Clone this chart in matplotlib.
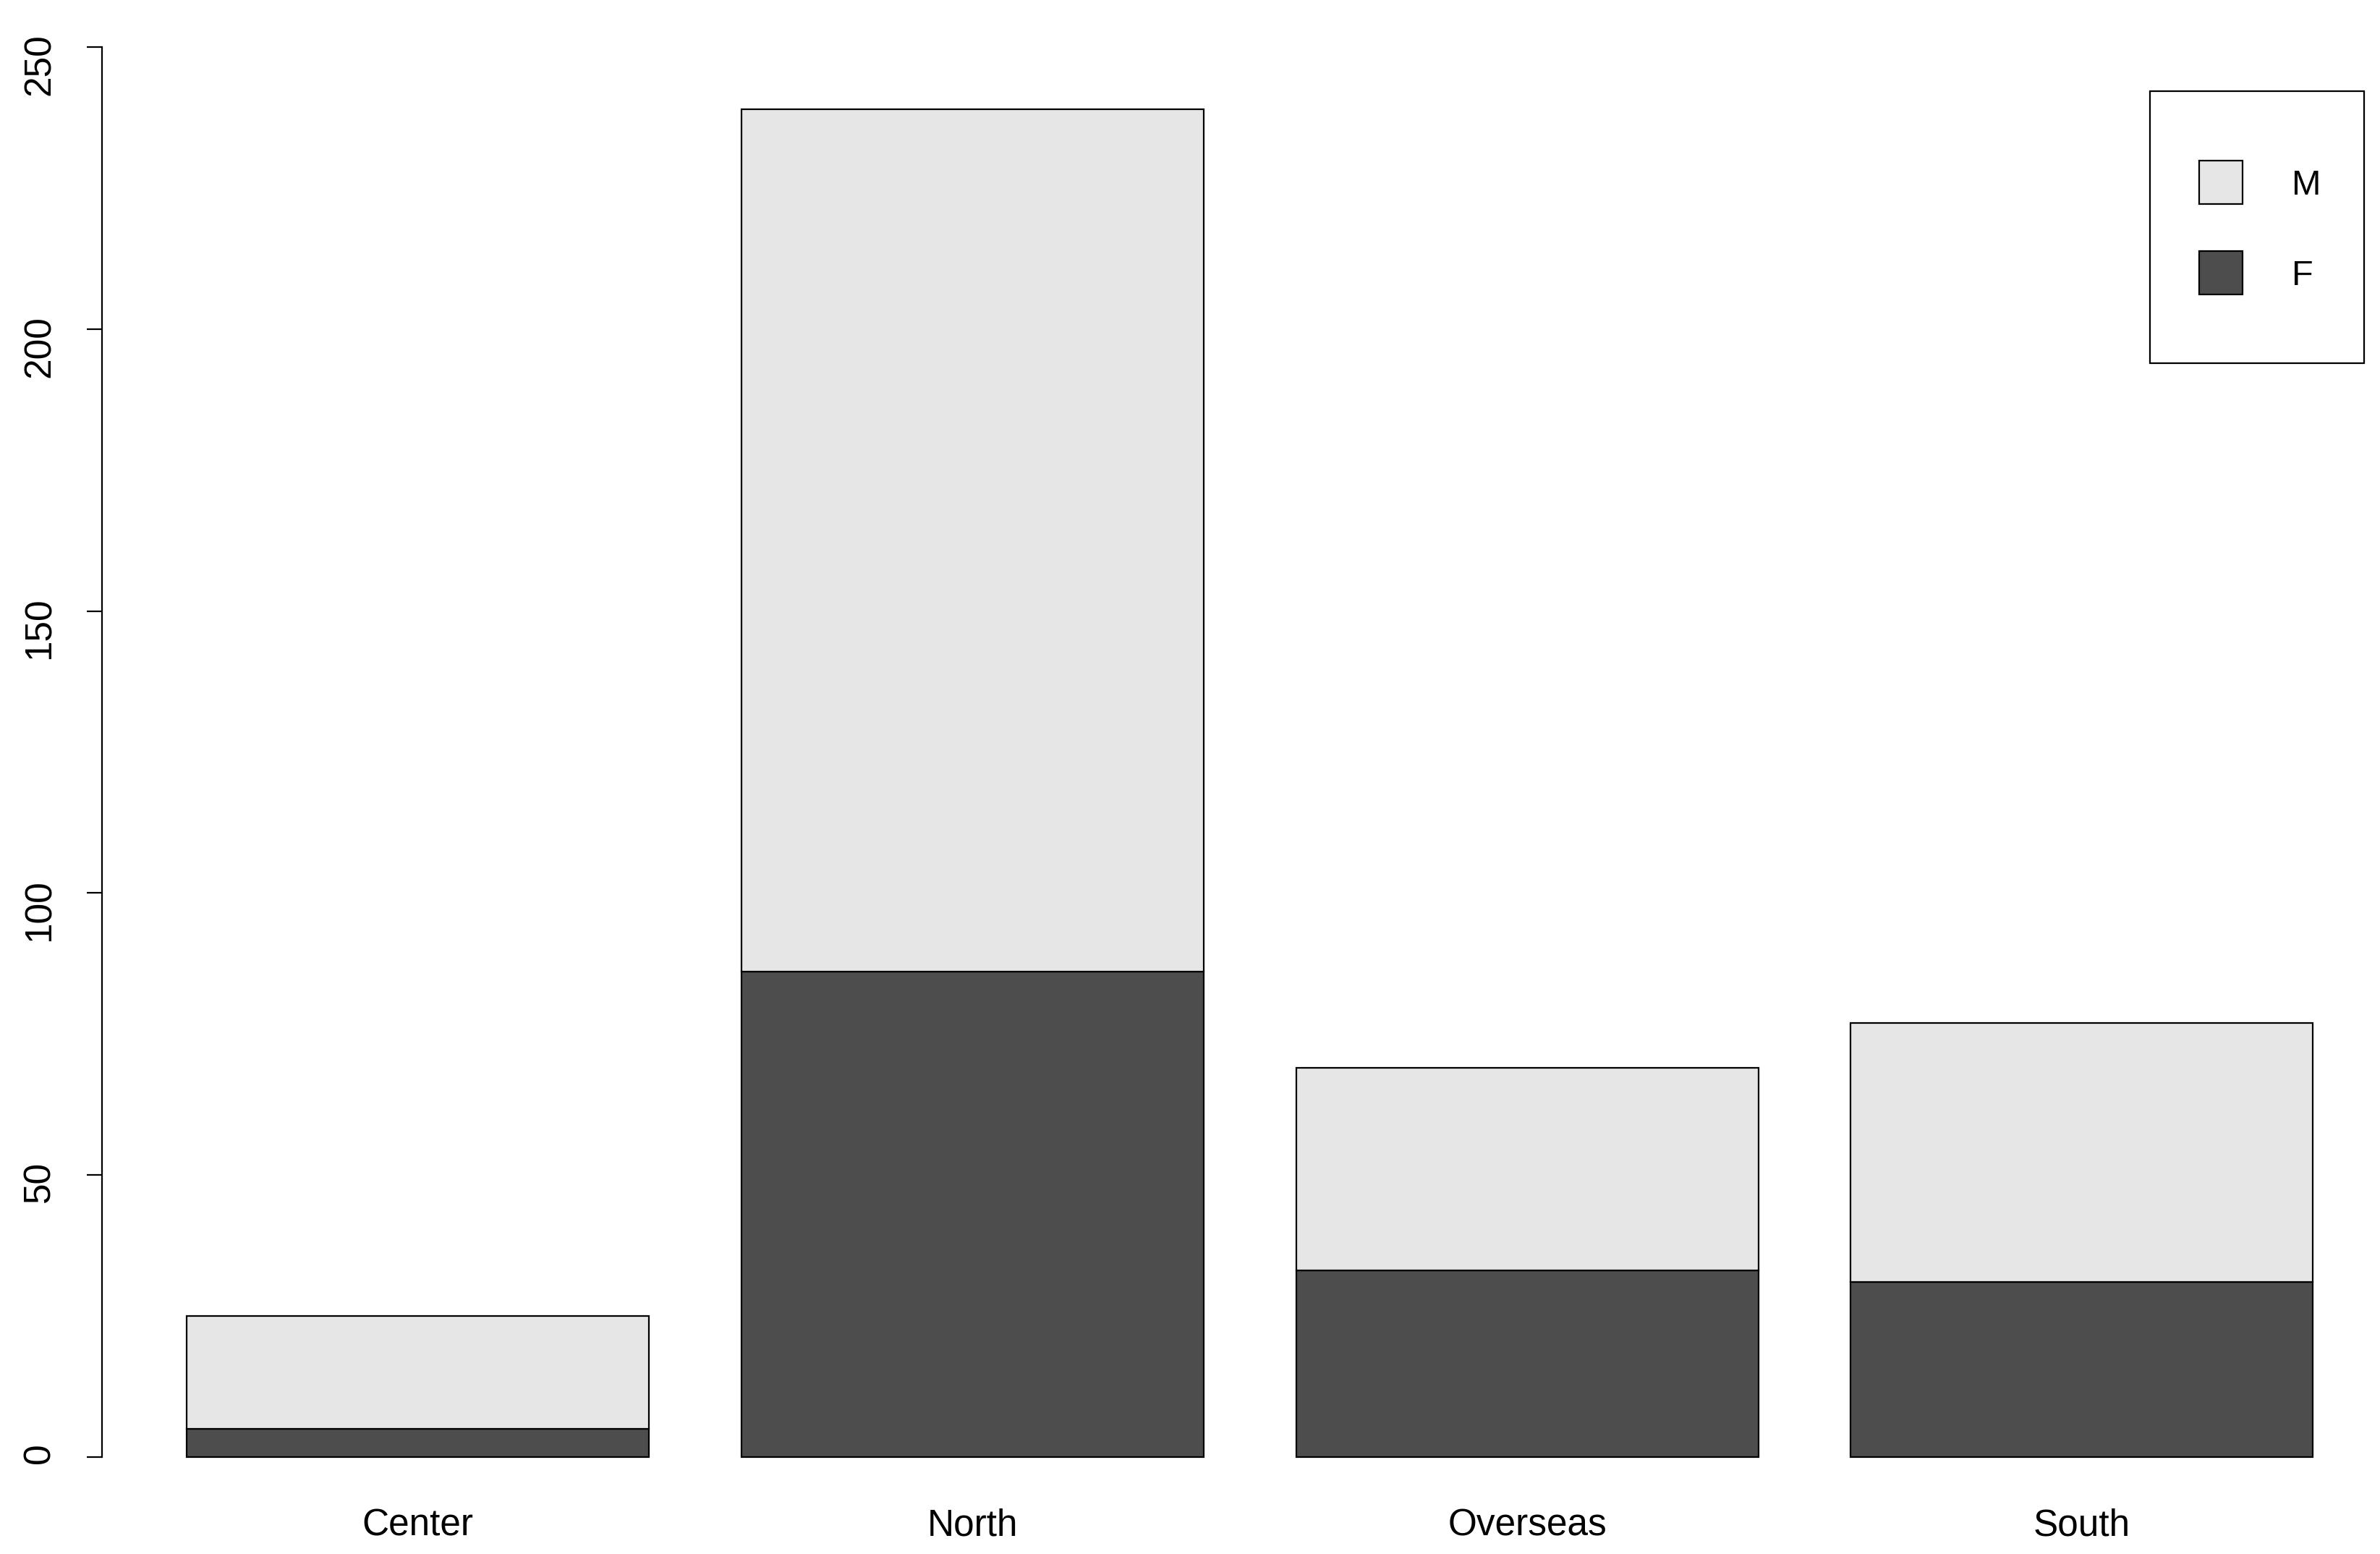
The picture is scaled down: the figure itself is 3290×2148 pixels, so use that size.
import matplotlib.pyplot as plt
from matplotlib.lines import Line2D
from matplotlib.patches import Rectangle
import numpy as np

plt.rcParams['font.family'] = ['Liberation Sans', 'DejaVu Sans']

regions = ["Center", "North", "Overseas", "South"]
female = [5, 86, 33, 31]
male = [20, 153, 36, 46]
y_ticks = [0, 50, 100, 150, 200, 250]

col_m = "#E6E6E6"
col_f = "#4D4D4D"

fig = plt.figure(figsize=(32.91, 21.48), dpi=100)
ax = fig.add_axes([0.0427, 0.04438, 0.9646, 0.9543])

# R barplot layout: width 1, space 0.2
x = 0.2 + np.arange(len(regions)) * 1.2 + 0.5
ax.bar(x, female, width=1.0, color=col_f, edgecolor="black", linewidth=1.6)
ax.bar(x, male, width=1.0, bottom=female, color=col_m, edgecolor="black", linewidth=1.6)

ax.set_xlim(0.016, 4.984)
ax.set_ylim(-5, 258)

for s in ["top", "right", "bottom"]:
    ax.spines[s].set_visible(False)
ax.spines["left"].set_bounds(0, 250)
ax.spines["left"].set_linewidth(1.6)

ax.set_yticks(y_ticks)
ax.set_yticklabels([str(t) for t in y_ticks])
ax.tick_params(axis="y", length=15, width=1.6, labelsize=37, pad=29, labelrotation=90)
ax.set_xticks(x)
ax.set_xticklabels(regions)
ax.tick_params(axis="x", length=0, labelsize=37, pad=23)

# legend box drawn like R's legend frame
fig.add_artist(Rectangle((1416 / 1568, 1 - 239 / 1023), 141 / 1568, 179 / 1023,
                         transform=fig.transFigure, fill=False,
                         edgecolor="black", linewidth=1.6))
handles = [
    Line2D([], [], linestyle="none", marker="s", markersize=43,
           markerfacecolor=col_m, markeredgecolor="black", markeredgewidth=1.6),
    Line2D([], [], linestyle="none", marker="s", markersize=43,
           markerfacecolor=col_f, markeredgecolor="black", markeredgewidth=1.6),
]
leg = ax.legend(handles, ["M", "F"], loc="upper left",
                bbox_to_anchor=(1449 / 1568, 1 - 111.5 / 1023), bbox_transform=fig.transFigure,
                fontsize=35, frameon=False, borderaxespad=0,
                borderpad=0, handlelength=1.2, handleheight=0.75,
                labelspacing=1.65, handletextpad=1.4)

fig.savefig("out.png", dpi=100)
